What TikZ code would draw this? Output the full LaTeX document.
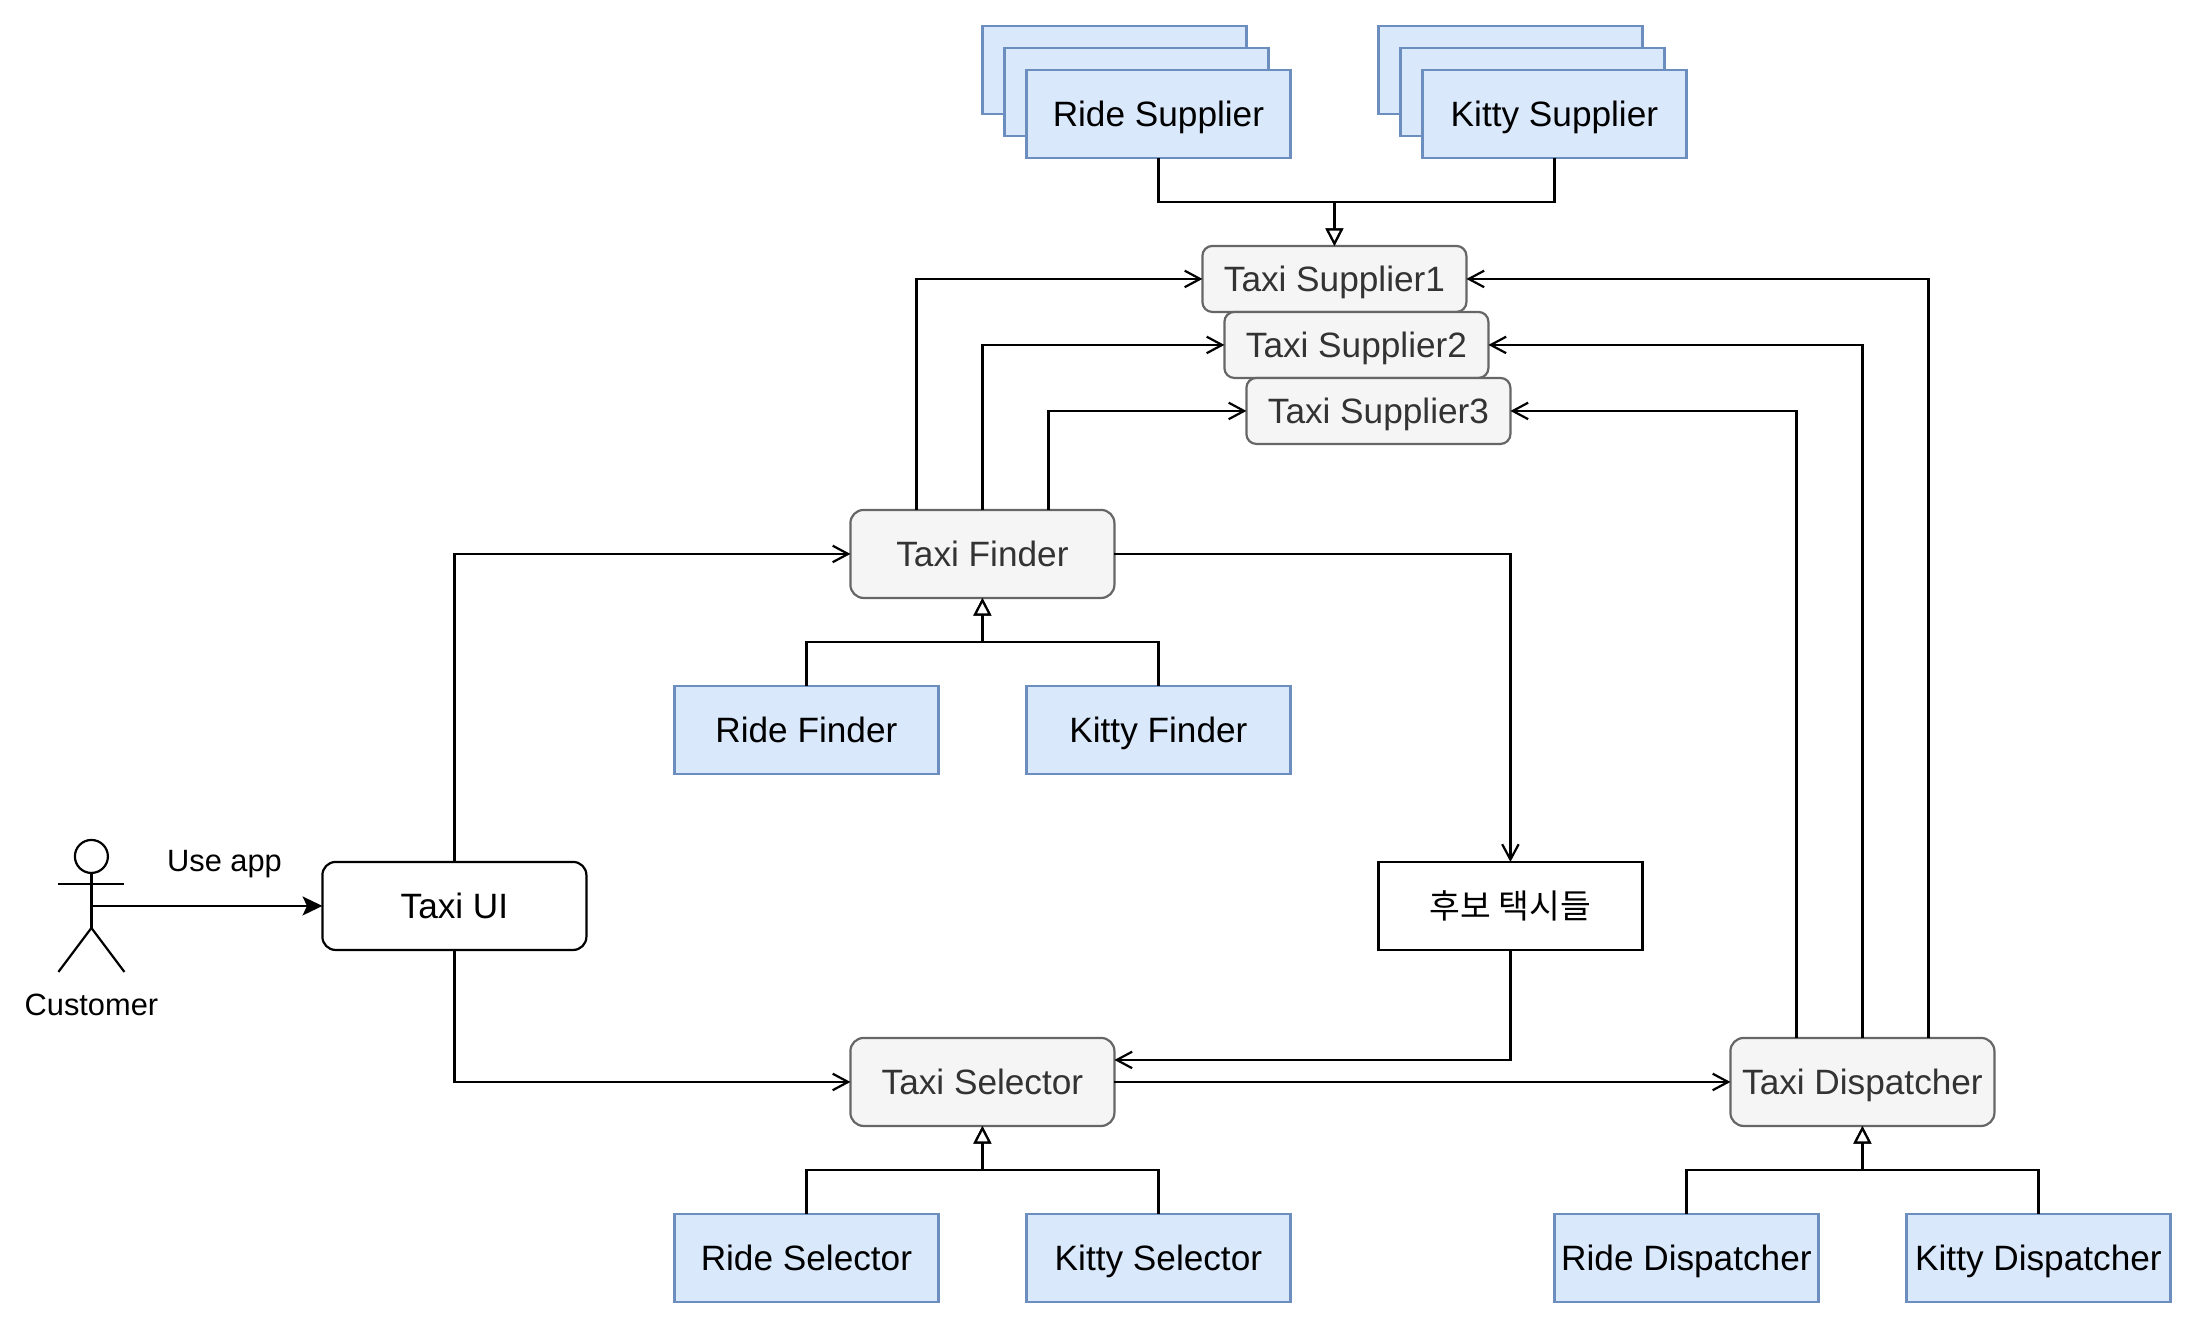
\documentclass[tikz,border=0pt]{standalone}
\usepackage{fontspec}
\setmainfont{Liberation Sans}
\newfontfamily\krfont{Noto Sans CJK KR}
\usetikzlibrary{arrows.meta,calc}
\definecolor{bluefill}{HTML}{DAE8FC}
\definecolor{bluedraw}{HTML}{6C8EBF}
\definecolor{grayfill}{HTML}{F5F5F5}
\definecolor{graydraw}{HTML}{666666}
\definecolor{graytext}{HTML}{333333}
\tikzset{
  base/.style={inner sep=0pt,outer sep=0pt,line width=1pt,minimum width=120pt,minimum height=40pt,
    text height=14.2pt,text depth=3pt,font=\fontsize{16}{19}\selectfont,align=center},
  bluebox/.style={base,draw=bluedraw,fill=bluefill},
  graybox/.style={base,draw=graydraw,fill=grayfill,text=graytext,rounded corners=6pt},
  grayslim/.style={graybox,minimum height=30pt,rounded corners=4.5pt},
  whiteround/.style={base,draw=black,fill=white,rounded corners=6pt},
  whitebox/.style={base,draw=black,fill=white},
  lbl/.style={inner sep=0pt,outer sep=0pt,font=\fontsize{14}{17}\selectfont,anchor=base},
  conn/.style={line width=1pt,draw=black,-{Straight Barb[length=7pt,width=7.5pt,line width=1pt]}},
  inh/.style={line width=1pt,draw=black,-{Triangle[open,length=8pt,width=8pt,line width=1pt,fill=white]}},
  filled/.style={line width=1pt,draw=black,-{Stealth[length=9pt,width=8.6pt,inset=2pt]}},
  actorline/.style={line width=1pt,draw=black},
}
\begin{document}
\begin{tikzpicture}[x=1pt,y=-1pt]
\useasboundingbox (-146.55,-391.8) rectangle (853.45,211.8);
% supplier stacks
\node[bluebox] (rs3) at (360,-360) {};
\node[bluebox] (rs2) at (370,-350) {};
\node[bluebox] (rs) at (380,-340) {Ride Supplier};
\node[bluebox] (ks3) at (540,-360) {};
\node[bluebox] (ks2) at (550,-350) {};
\node[bluebox] (ks) at (560,-340) {Kitty Supplier};
% taxi suppliers
\node[grayslim] (s1) at (460,-265) {Taxi Supplier1};
\node[grayslim] (s2) at (470,-235) {Taxi Supplier2};
\node[grayslim] (s3) at (480,-205) {Taxi Supplier3};
% finder
\node[graybox] (tf) at (300,-140) {Taxi Finder};
\node[bluebox] (rf) at (220,-60) {Ride Finder};
\node[bluebox] (kf) at (380,-60) {Kitty Finder};
% ui
\node[whiteround] (ui) at (60,20) {Taxi UI};
\node[whitebox] (cand) at (540,20) {\krfont\fontsize{15.2}{18}\selectfont 후보 택시들};
% selector
\node[graybox] (ts) at (300,100) {Taxi Selector};
\node[bluebox] (rsel) at (220,180) {Ride Selector};
\node[bluebox] (ksel) at (380,180) {Kitty Selector};
% dispatcher
\node[graybox] (td) at (700,100) {Taxi Dispatcher};
\node[bluebox] (rd) at (620,180) {Ride Dispatcher};
\node[bluebox] (kd) at (780,180) {Kitty Dispatcher};
% actor
\node[circle,draw=black,line width=1pt,fill=white,minimum size=15pt,inner sep=0pt,outer sep=0pt] (head) at (-105,-2.5) {};
\coordinate (actc) at (-105,20);
\coordinate (hip) at (-105,30);
\coordinate (arml) at (-120,10);
\coordinate (armr) at (-90,10);
\coordinate (legl) at (-120,50);
\coordinate (legr) at (-90,50);
\draw[actorline] (head.south) -- (hip);
\draw[actorline] (arml) -- (armr);
\draw[actorline] (legl) -- (hip) -- (legr);
\node[lbl] (custlbl) at (-105,69.9) {Customer};
\node[lbl] (uselbl) at (-44.5,4.4) {Use app};
% connectors
\draw[filled] (actc) -- (ui.west);
\draw[conn] (ui.north) |- (tf.west);
\draw[conn] (ui.south) |- (ts.west);
\draw[conn] ([xshift=-30pt]tf.north) |- (s1.west);
\draw[conn] (tf.north) |- (s2.west);
\draw[conn] ([xshift=30pt]tf.north) |- (s3.west);
\draw[conn] (tf.east) -| (cand.north);
\draw[conn] (cand.south) |- ([yshift=10pt]ts.east);
\draw[conn] (ts.east) -- (td.west);
\draw[conn] ([xshift=-30pt]td.north) |- (s3.east);
\draw[conn] (td.north) |- (s2.east);
\draw[conn] ([xshift=30pt]td.north) |- (s1.east);
\draw[inh] (rs.south) |- ++(80,20) -- (s1.north);
\draw[inh] (ks.south) |- ++(-100,20) -- (s1.north);
\draw[inh] (rf.north) -- ++(0,-20) -| (tf.south);
\draw[inh] (kf.north) -- ++(0,-20) -| (tf.south);
\draw[inh] (rsel.north) -- ++(0,-20) -| (ts.south);
\draw[inh] (ksel.north) -- ++(0,-20) -| (ts.south);
\draw[inh] (rd.north) -- ++(0,-20) -| (td.south);
\draw[inh] (kd.north) -- ++(0,-20) -| (td.south);
\end{tikzpicture}
\end{document}
